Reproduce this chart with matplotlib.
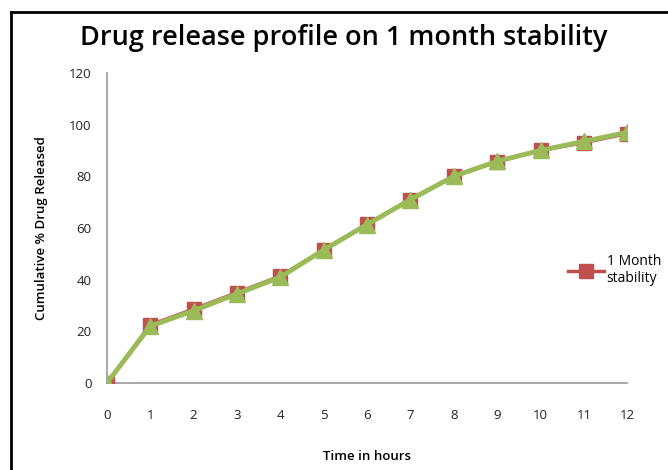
import matplotlib.pyplot as plt
from matplotlib.lines import Line2D

hours = [0, 1, 2, 3, 4, 5, 6, 7, 8, 9, 10, 11, 12]
month1 = [0, 22.5, 28.6, 35.0, 41.4, 51.5, 61.5, 70.8, 80.0, 85.6, 90.0, 93.0, 96.5]
initial = [0, 22.0, 28.0, 34.5, 41.0, 51.5, 61.3, 71.0, 80.0, 85.8, 90.0, 93.5, 97.0]

red = '#C0504D'
green = '#9BBB59'

plt.rcParams['font.family'] = ['Open Sans', 'DejaVu Sans']

fig = plt.figure(figsize=(6.68, 4.7), dpi=100)
ax = fig.add_axes([0.160, 0.185, 0.779, 0.660])

ax.plot(hours, month1, color=red, lw=2.5, marker='s', ms=10, mec=red, zorder=3)
ax.plot(hours, initial, color=green, lw=3.5, marker='^', ms=11, mec=green, zorder=4)

ax.set_xlim(0, 12)
ax.set_ylim(0, 120)
ax.set_xticks(hours)
ax.set_yticks(range(0, 121, 20))
ax.tick_params(length=0, labelsize=9.5, colors='#222222')
ax.tick_params(axis='x', pad=19)
ax.tick_params(axis='y', pad=11)
for s in ['top', 'right']:
    ax.spines[s].set_visible(False)
for s in ['left', 'bottom']:
    ax.spines[s].set_color('#999999')
    ax.spines[s].set_linewidth(1.2)
for lbl in ax.get_xticklabels() + ax.get_yticklabels():
    lbl.set_clip_on(False)

ax.set_xlabel('Time in hours', fontsize=9.5, fontweight='semibold', labelpad=20)
ax.set_ylabel('Cumulative % Drug Released', fontsize=9.5, fontweight='semibold', labelpad=15)
fig.suptitle('Drug release profile on 1 month stability', fontsize=19.5,
             fontweight='semibold', x=0.515, y=0.95)

handle = Line2D([0], [0], color=red, lw=2.5, marker='s', ms=10)
fig.legend([handle], ['1 Month\nstability'], loc='center left',
           bbox_to_anchor=(0.85, 0.425), frameon=False, fontsize=10,
           handlelength=2.6, handletextpad=0.2, labelspacing=0.3,
           borderpad=0, borderaxespad=0)

# frame lines at top and left of the picture
fig.add_artist(Line2D([0.016, 0.016], [0, 0.974], color='black', lw=2,
                      transform=fig.transFigure))
fig.add_artist(Line2D([0.016, 1], [0.974, 0.974], color='black', lw=2,
                      transform=fig.transFigure))

fig.savefig('out.png', dpi=100, facecolor='white')
